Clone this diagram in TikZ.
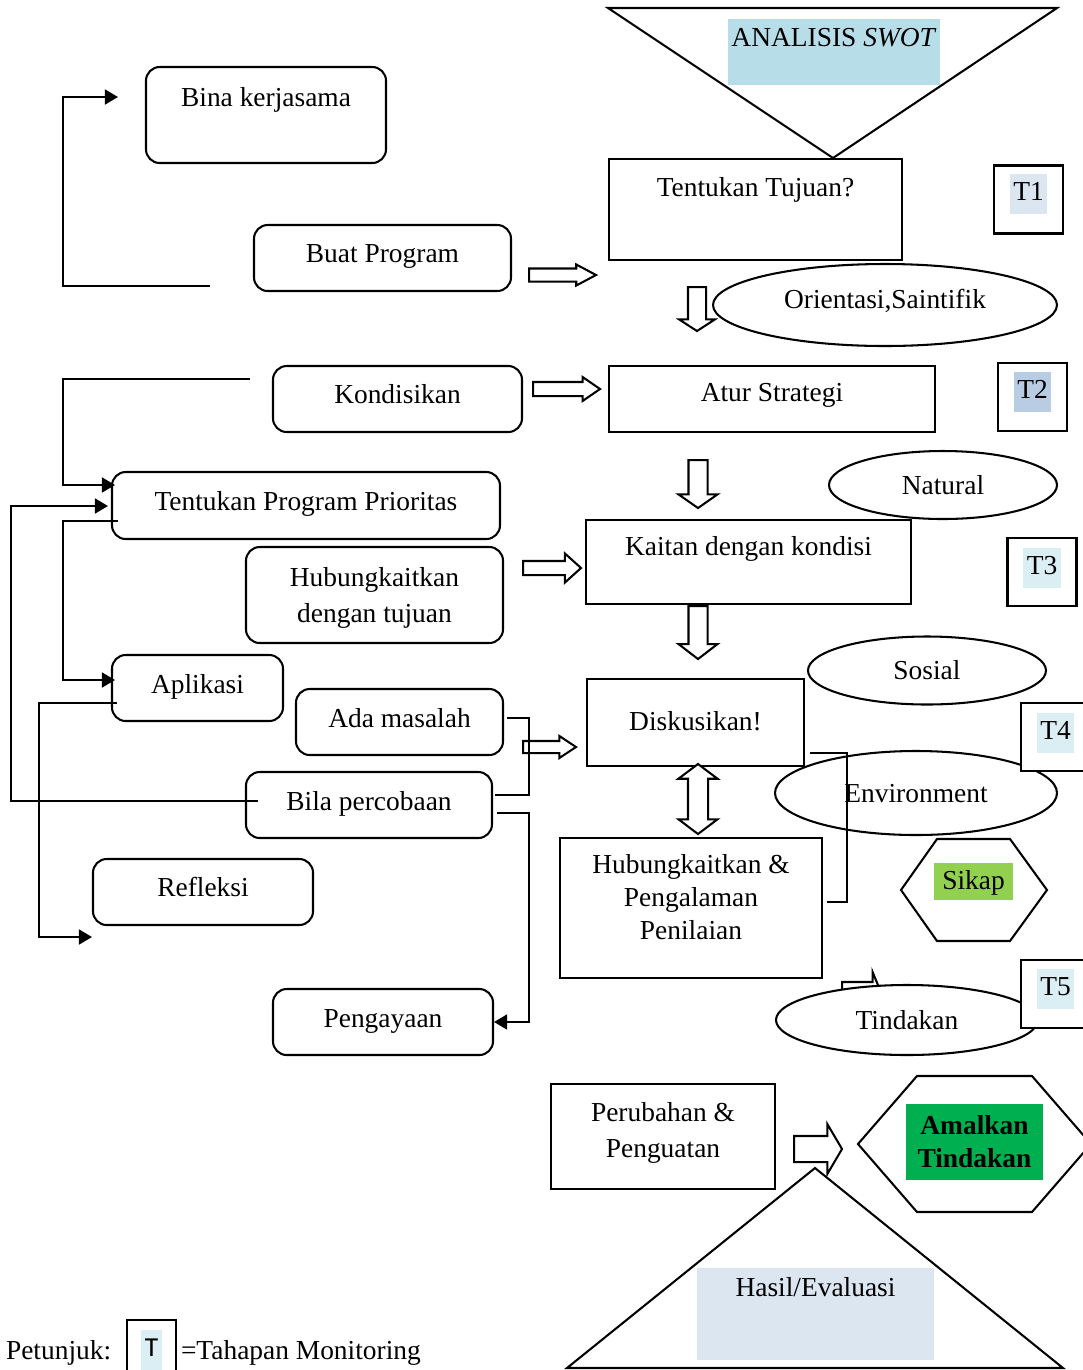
\documentclass[tikz,border=0pt,12pt]{standalone}
\usepackage{fontspec}
\setmainfont{Liberation Serif}
\newfontfamily\calfont{Carlito}
\usetikzlibrary{arrows.meta, shapes.geometric, shapes.arrows}
\definecolor{swotblue}{HTML}{B7DDE8}
\definecolor{tsoft}{HTML}{DAEEF3}
\definecolor{tgrey}{HTML}{DCE6F1}
\definecolor{tmid}{HTML}{B8CCE4}
\definecolor{sikapgreen}{HTML}{92D050}
\definecolor{amalgreen}{HTML}{00B050}
\newcommand{\pxu}{0.4375pt}
\setlength{\fboxsep}{1.5pt}
\tikzset{
  every picture/.style={line width=0.9pt},
  wh/.style 2 args={minimum width=#1*\pxu, minimum height=#2*\pxu},
  rbox/.style={draw, fill=white, rounded corners=6pt, align=center, inner sep=0pt, text height=11.5pt, text depth=3.3pt},
  pbox/.style={draw, fill=white, align=center, inner sep=0pt, text height=11.5pt, text depth=3.3pt},
  oval/.style={draw, fill=white, ellipse, inner sep=0pt, text height=11.5pt, text depth=3.3pt},
  tbox/.style={draw, fill=white, inner sep=0pt, wh={69}{68}},
  hl/.style={fill=#1, inner sep=0pt, align=center, text height=11.5pt, text depth=3.3pt},
  blk/.style={draw, fill=white, single arrow, inner xsep=0pt, anchor=tail, minimum height=#1*\pxu},
  bhead/.style n args={3}{inner ysep=#1/2*\pxu, single arrow head extend=#2*\pxu, single arrow tip angle=#3},
  conn/.style={-{Triangle[length=5.7pt, width=6.5pt]}},
}

\begin{document}
\begin{tikzpicture}[x=0.4375pt, y=-0.4375pt]
  \useasboundingbox (0,0) rectangle (1083,1370);

  % analisis swot
  \draw[fill=white] (608,8) -- (1057,8) -- (833,158) -- cycle;
  \node[hl=swotblue, wh={212}{66}, text depth=16.4pt] (swot) at (834,52) {ANALISIS \textit{SWOT}};

  % boxes
  \node[rbox, wh={240}{96}, text depth=19.1pt] (bina) at (266,115) {Bina kerjasama};
  \node[pbox, wh={293}{101}, text depth=22.5pt] (tujuan) at (755.5,209.5) {Tentukan Tujuan?};
  \node[rbox, wh={257}{66}, text depth=7.7pt] (buat) at (382.5,258) {Buat Program};
  \node[rbox, wh={249}{66}, text depth=7.7pt] (kond) at (397.5,399) {Kondisikan};
  \node[pbox, wh={326}{66}, text depth=9.3pt] (atur) at (772,399) {Atur Strategi};
  \node[rbox, wh={388}{67}, text depth=7.2pt] (tpp) at (306,505.5) {Tentukan Program Prioritas};
  \node[rbox, wh={257}{96}, label={[align=center, yshift=-1.3pt]center:Hubungkaitkan\\[1.5pt]dengan tujuan}] (hdt) at (374.5,595) {};
  \node[pbox, wh={325}{84}, text depth=17.3pt] (kaitan) at (748.5,562) {Kaitan dengan kondisi};
  \node[rbox, wh={171}{66}, text depth=6.8pt] (aplikasi) at (197.5,688) {Aplikasi};
  \node[rbox, wh={207}{66}, text depth=6.8pt] (ada) at (399.5,722) {Ada masalah};
  \node[pbox, wh={217}{87}, text depth=4.6pt] (disk) at (695.5,722.5) {Diskusikan!};
  \node[rbox, wh={246}{66}, text depth=6.8pt] (bila) at (369,805) {Bila percobaan};
  \node[pbox, wh={262}{140}, label={[align=center, yshift=4.8pt]center:Hubungkaitkan \&\\Pengalaman\\Penilaian}] (hpp) at (691,908) {};
  \node[rbox, wh={220}{66}, text depth=7.7pt] (refleksi) at (203,892) {Refleksi};
  \node[rbox, wh={220}{66}, text depth=6.8pt] (pengayaan) at (383,1022) {Pengayaan};
  \node[pbox, wh={224}{105}, label={[align=center, yshift=1.6pt]center:Perubahan \&\\[1.5pt]Penguatan}] (perubahan) at (663,1136.5) {};

  % ovals
  \node[oval, wh={344}{82}, text depth=8.5pt] (orient) at (885,305) {Orientasi,Saintifik};
  \node[oval, wh={228}{68}] (natural) at (943,485) {Natural};
  \node[oval, wh={238}{68}] (sosial) at (927,670.5) {Sosial};
  \node[oval, wh={282}{84}] (env) at (916,793) {Environment};

  % block arrows
  \node[blk=67, bhead={11}{4}{56}] (a1) at (528,275) {};
  \node[blk=44, bhead={16}{9}{114}, rotate=-90] (a2) at (697,286) {};
  \node[blk=67, bhead={12}{5}{69}] (a3) at (532,389) {};
  \node[blk=48, bhead={17}{10}{110}, rotate=-90] (a4) at (698,459) {};
  \node[blk=58, bhead={12}{7.5}{84}] (a5) at (522,568) {};
  \node[blk=53, bhead={17}{10}{105}, rotate=-90] (a6) at (698,605) {};
  \node[blk=53, bhead={10}{5}{67}] (a7) at (522,747) {};
  \node[draw, fill=white, double arrow, inner xsep=0pt, inner ysep=9*\pxu, minimum height=70*\pxu,
        double arrow head extend=9.5*\pxu, double arrow tip angle=106, rotate=90] (a8) at (698,799) {};
  \node[blk=38, bhead={14}{10}{135}] (a9) at (841,990) {};
  \node[blk=48, bhead={24}{12}{119}] (a10) at (793,1149) {};

  \node[oval, wh={262}{70}] (tindakan) at (907,1020) {Tindakan};

  % hexagons
  \draw[fill=white] (901,890) -- (937,839) -- (1010,839) -- (1047,890) -- (1010,941) -- (937,941) -- cycle;
  \node[hl=sikapgreen, wh={79}{37}, text depth=4.6pt] (sikap) at (973.5,881.5) {Sikap};
  \draw[fill=white] (858,1144) -- (917,1076) -- (1032,1076) -- (1091,1144) -- (1032,1212) -- (917,1212) -- cycle;
  \node[fill=amalgreen, inner sep=0pt, align=center, wh={137}{76}, font=\bfseries] (amal) at (974.5,1142) {Amalkan\\Tindakan};

  % hasil
  \draw[fill=white] (815,1168) -- (1063,1368) -- (567,1368) -- cycle;
  \node[hl=tgrey, wh={237}{92}, text depth=26.9pt] (hasil) at (815.5,1314) {Hasil/Evaluasi};

  % tahapan
  \node[tbox, text depth=10.8pt] (t1) at (1028.5,199.5) {\colorbox{tgrey}{\strut T1}};
  \node[tbox, text depth=10.2pt] (t2) at (1032.5,397) {\colorbox{tmid}{\strut T2}};
  \node[tbox, text depth=9.2pt] (t3) at (1042,572) {\colorbox{tsoft}{\strut T3}};
  \node[tbox, text depth=9.2pt] (t4) at (1055.5,737) {\colorbox{tsoft}{\strut T4}};
  \node[tbox, text depth=10.2pt] (t5) at (1055.5,994) {\colorbox{tsoft}{\strut T5}};

  % connectors
  \coordinate (buatend) at (210,286);
  \coordinate (binain) at (118,97);
  \coordinate (kondend) at (250,379);
  \coordinate (tppin) at (115,485);
  \coordinate (bilaend) at (258,801);
  \coordinate (tppback) at (108,506);
  \coordinate (tppout) at (118,521);
  \coordinate (aplin) at (115,680);
  \coordinate (aplout) at (117,703);
  \coordinate (refin) at (92,937);
  \coordinate (adaout) at (507,718);
  \coordinate (bilaout) at (495,795);
  \coordinate (bilaside) at (497,813);
  \coordinate (diskout) at (810,753);
  \coordinate (hppin) at (827,902);
  \draw[conn] (buatend) -- (63,286) |- (binain);
  \draw[conn] (kondend) -- (63,379) |- (tppin);
  \draw[conn] (bilaend) -- (11,801) |- (tppback);
  \draw[conn] (tppout) -- (63,521) |- (aplin);
  \draw[conn] (aplout) -- (39,703) |- (refin);
  \draw (adaout) -- (529,718) |- (bilaout);
  \draw[conn] (bilaside) -- (529,813) |- (pengayaan.east);
  \draw (diskout) -- (847,753) |- (hppin);

  % petunjuk
  \node[anchor=west, inner sep=0pt] (petunjuk) at (5,1353) {Petunjuk:};
  \node[draw, inner sep=0pt, wh={49}{56}, text depth=4pt] (legend) at (151.5,1348) {\colorbox{tsoft}{\calfont\strut T}};
  \node[anchor=west, inner sep=0pt] (tahapan) at (180,1353) {=Tahapan Monitoring};
\end{tikzpicture}
\end{document}
